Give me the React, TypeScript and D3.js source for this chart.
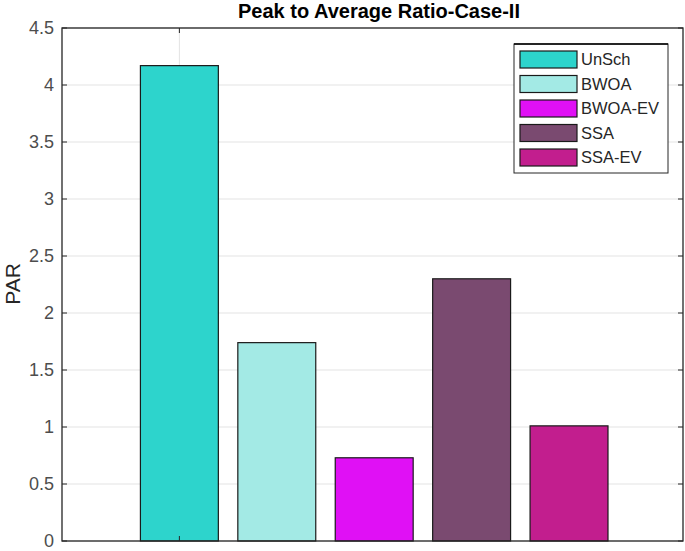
import React from "react";
import * as d3 from "d3";

// values
const methods = ["UnSch", "BWOA", "BWOA-EV", "SSA", "SSA-EV"];
const parValues = [4.17, 1.74, 0.73, 2.3, 1.01];
const barColors = ["#2dd4cc", "#a3eae5", "#e010f5", "#7a4a70", "#c21e8e"];
const yTicks = [0, 0.5, 1, 1.5, 2, 2.5, 3, 3.5, 4, 4.5];
const xTicks = [0];

const width = 685;
const height = 551;
const margin = { top: 28, right: 2, bottom: 10, left: 62 };
const innerW = width - margin.left - margin.right;
const innerH = height - margin.top - margin.bottom;

const axisColor = "#262626";
const font = "'Liberation Sans', Arial, Helvetica, sans-serif";

const App = () => {
  // bars sit at 0..4, the plot is wider than the bars on both sides
  const x = d3.scaleLinear().domain([-1.205, 5.17]).range([0, innerW]);
  const y = d3.scaleLinear().domain([0, 4.5]).range([innerH, 0]);
  const barW = (x(1) - x(0)) * 0.8;

  return (
    <svg
      width={width}
      height={height}
      style={{ position: "absolute", left: 0, top: 0, background: "#fff" }}
      fontFamily={font}
    >
      <text
        x={379}
        y={18}
        textAnchor="middle"
        fontSize={20}
        fontWeight="bold"
        fill="#000"
      >
        Peak to Average Ratio-Case-II
      </text>

      <g transform={`translate(${margin.left},${margin.top})`}>
        {/* grid */}
        {yTicks.map((t) => (
          <line
            key={"gy" + t}
            x1={0}
            x2={innerW}
            y1={y(t)}
            y2={y(t)}
            stroke="#e3e3e3"
            strokeWidth={1}
          />
        ))}
        {xTicks.map((t) => (
          <line
            key={"gx" + t}
            x1={x(t)}
            x2={x(t)}
            y1={0}
            y2={innerH}
            stroke="#e3e3e3"
            strokeWidth={1}
          />
        ))}

        {/* bars */}
        {parValues.map((v, i) => (
          <rect
            key={methods[i]}
            x={x(i) - barW / 2}
            y={y(v)}
            width={barW}
            height={y(0) - y(v)}
            fill={barColors[i]}
            stroke="#1a1a1a"
            strokeWidth={1.2}
          />
        ))}

        {/* box */}
        <rect
          x={0}
          y={0}
          width={innerW}
          height={innerH}
          fill="none"
          stroke={axisColor}
          strokeWidth={1.3}
        />

        {/* ticks */}
        {yTicks.map((t) => (
          <g key={"ty" + t}>
            <line x1={0} x2={5} y1={y(t)} y2={y(t)} stroke={axisColor} />
            <line
              x1={innerW}
              x2={innerW - 5}
              y1={y(t)}
              y2={y(t)}
              stroke={axisColor}
            />
            <text
              x={-8}
              y={y(t)}
              dy="0.35em"
              textAnchor="end"
              fontSize={18}
              fill="#4d4d4d"
            >
              {t}
            </text>
          </g>
        ))}
        {xTicks.map((t) => (
          <g key={"tx" + t}>
            <line
              x1={x(t)}
              x2={x(t)}
              y1={innerH}
              y2={innerH - 5}
              stroke={axisColor}
            />
            <line x1={x(t)} x2={x(t)} y1={0} y2={5} stroke={axisColor} />
          </g>
        ))}

        {/* legend */}
        <g transform={`translate(${514 - margin.left},${44 - margin.top})`}>
          <rect
            x={0}
            y={0}
            width={154}
            height={129}
            fill="#fff"
            stroke={axisColor}
            strokeWidth={1}
          />
          <line x1={0} x2={154} y1={0} y2={0} stroke="#000" strokeWidth={1.5} />
          {methods.map((m, i) => (
            <g key={"lg" + m} transform={`translate(6,${7 + i * 24.5})`}>
              <rect
                x={0}
                y={0}
                width={57}
                height={17}
                fill={barColors[i]}
                stroke="#1a1a1a"
                strokeWidth={1.2}
              />
              <text x={61} y={8.5} dy="0.36em" fontSize={16.5} fill="#262626">
                {m}
              </text>
            </g>
          ))}
        </g>
      </g>

      <text
        transform={`translate(20,284) rotate(-90)`}
        textAnchor="middle"
        fontSize={21}
        fill="#262626"
      >
        PAR
      </text>
    </svg>
  );
};

export default App;
